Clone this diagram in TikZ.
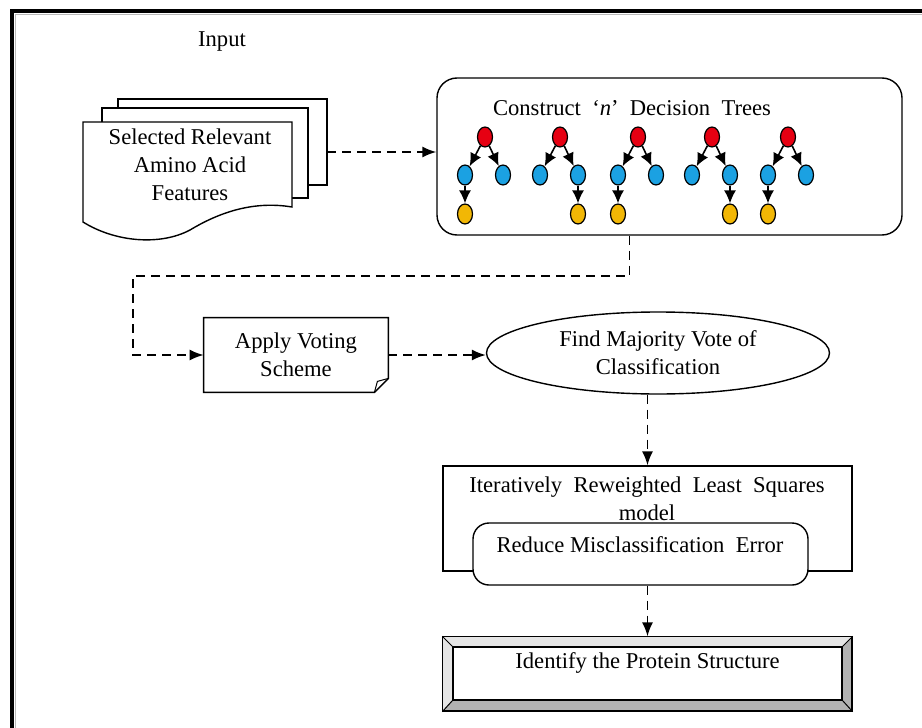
\documentclass[tikz,border=0pt]{standalone}
\usepackage{fontspec}
\setmainfont{Liberation Serif}
\usetikzlibrary{shapes.geometric, arrows.meta}

\definecolor{rootred}{HTML}{E60012}
\definecolor{leafblue}{HTML}{1BA1E2}
\definecolor{leafgold}{HTML}{F2B705}

\tikzset{
  flow/.style={-{Latex[length=7pt, width=5.5pt]}, dashed, dash pattern=on 4.5pt off 3pt, line width=0.8pt},
  treenode/.style={ellipse, draw, line width=0.6pt, inner sep=0pt, minimum width=7.5pt, minimum height=10pt},
  treearrow/.style={-{Latex[length=6.5pt, width=6pt]}, line width=0.8pt},
  box/.style={draw, line width=0.7pt, inner sep=0pt},
}

\begin{document}
\begin{tikzpicture}[x=0.5pt, y=-0.5pt, font=\fontsize{11.3}{14}\selectfont]
      \useasboundingbox (0,0) rectangle (922,728);

      % frame
      \draw[line width=2pt] (12,728) -- (12,11) -- (922,11);
      \draw[gray!55, line width=0.8pt] (15.5,728) -- (15.5,14.5) -- (922,14.5);

      \node (input) at (222,42) {Input};

      % stacked documents
      \draw[box, fill=white] (118,99) rectangle (327,185);
      \draw[box, fill=white] (102,108) rectangle (308,198);
      \draw[box, fill=white] (83,122) -- (292,122) -- (292,207)
        .. controls (250,200) and (215,215) .. (190,230)
        .. controls (160,246) and (115,242) .. (83,222) -- cycle;
      \node[align=center] (features) at (190,165) {Selected Relevant\\Amino Acid\\Features};
      \coordinate (stack) at (327,152);

      % decision trees
      \node[box, rounded corners=10pt, minimum width=232.5pt, minimum height=78.5pt] (trees) at (669.5,156.5) {};
      \node (treetitle) at (632,108) {Construct\ \ ‘\textit{n}’\ \ Decision\ \ Trees};
      \foreach \i/\x/\p/\g in {1/485/a/-20, 2/560/b/18, 3/638/a/-20, 4/712/b/18, 5/788/a/-20} {
        \node[treenode, fill=rootred] (r\i) at (\x,137) {};
        \node[treenode, fill=leafblue] (a\i) at (\x-20,175) {};
        \node[treenode, fill=leafblue] (b\i) at (\x+18,175) {};
        \node[treenode, fill=leafgold] (c\i) at (\x+\g,214) {};
        \draw[treearrow] (r\i) -- (a\i);
        \draw[treearrow] (r\i) -- (b\i);
        \draw[treearrow] (\p\i) -- (c\i);
      }

      % voting
      \node[minimum width=92pt, minimum height=37pt, align=center] (vote) at (296,355) {Apply Voting\\Scheme};
      \draw[box] (vote.north west) -- (vote.north east) -- ([yshift=7pt]vote.south east)
        -- ([xshift=-7pt]vote.south east) -- (vote.south west) -- cycle;
      \draw[line width=0.5pt] ([xshift=-7pt]vote.south east) -- ([xshift=-5.5pt, yshift=5.5pt]vote.south east)
        -- ([yshift=7pt]vote.south east);

      \node[box, ellipse, minimum width=171.5pt, minimum height=41pt, align=center] (major) at (658,353) {Find Majority Vote of\\Classification};

      % IRLS
      \node[box, minimum width=204.5pt, minimum height=52.5pt] (irls) at (647.5,518.5) {};
      \node[align=center] (irlstext) at (647,499) {Iteratively\ \ Reweighted\ \ Least\ \ Squares\\model};
      \node[box, fill=white, rounded corners=8pt, minimum width=167.5pt, minimum height=31pt] (reduce) at (640.5,554) {};
      \node (reducetext) at (640,545) {Reduce Misclassification\ \ Error};

      % result
      \node[box, fill=gray!60, minimum width=204.5pt, minimum height=37pt] (ident) at (647.5,674) {};
      \node[box, fill=white, minimum width=194.5pt, minimum height=26.5pt] (identin) at (647.5,673.5) {};
      \fill[gray!20] (ident.north west) -- (ident.north east) -- (identin.north east)
        -- (identin.north west) -- (identin.south west) -- (ident.south west) -- cycle;
      \draw[line width=0.7pt] (ident.north west) rectangle (ident.south east);
      \draw[line width=0.7pt] (identin.north west) rectangle (identin.south east);
      \draw[line width=0.5pt] (ident.north west) -- (identin.north west)
        (ident.north east) -- (identin.north east)
        (ident.south west) -- (identin.south west)
        (ident.south east) -- (identin.south east);
      \node (identtext) at (647.5,663) {Identify the Protein Structure};

      % connectors
      \coordinate (bend) at (133,276);
      \draw[flow] (stack) -- (stack -| trees.west);
      \draw[flow] ([xshift=-20pt]trees.south) |- (bend) |- (vote.west);
      \draw[flow] (vote.east) -- (vote.east -| major.west);
      \draw[flow] (irls.north |- major.south) -- (irls.north);
      \draw[flow] (ident.north |- reduce.south) -- (ident.north);

    \end{tikzpicture}
\end{document}
